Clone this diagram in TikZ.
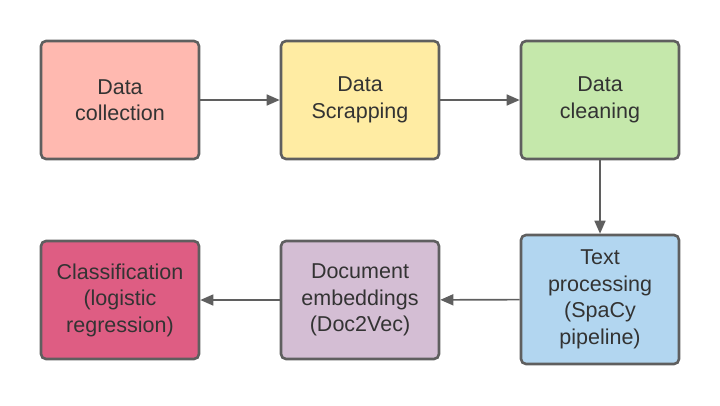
\documentclass[tikz,border=0pt]{standalone}
\usepackage{fontspec}
\setmainfont{Liberation Sans}
\usetikzlibrary{arrows.meta}
\definecolor{bordc}{RGB}{95,95,95}
\definecolor{txtc}{RGB}{51,51,51}
\definecolor{cpink}{RGB}{255,185,176}
\definecolor{cyellow}{RGB}{255,236,163}
\definecolor{cgreen}{RGB}{197,232,171}
\definecolor{cblue}{RGB}{178,214,240}
\definecolor{cpurple}{RGB}{212,190,212}
\definecolor{ccrimson}{RGB}{222,93,131}
\tikzset{
  stepbox/.style={draw=bordc, line width=2.6pt, rounded corners=5pt, minimum width=158pt, minimum height=118pt, align=center, text=txtc, font=\fontsize{21.5}{26.5}\selectfont, inner sep=0pt},
  conn/.style={draw=bordc, line width=1.6pt, -{Triangle[length=13pt,width=11pt]}}
}
\begin{document}
\begin{tikzpicture}[x=1pt,y=1pt]
\useasboundingbox (0,0) rectangle (720,-405);
\node[stepbox, fill=cpink] (a) at (120,-100) {Data\\collection};
\node[stepbox, fill=cyellow] (b) at (360,-100) {Data\\Scrapping};
\node[stepbox, fill=cgreen] (c) at (600,-100) {Data\\cleaning};
\node[stepbox, fill=cblue, minimum height=129pt] (d) at (600,-299.5) {Text\\processing\\(SpaCy\\pipeline)};
\node[stepbox, fill=cpurple] (e) at (360,-300) {Document\\embeddings\\(Doc2Vec)};
\node[stepbox, fill=ccrimson] (f) at (120,-300) {Classification\\(logistic\\regression)};
\draw[conn] (a) -- (b);
\draw[conn] (b) -- (c);
\draw[conn] (c) -- (d);
\draw[conn] (d) -- (e);
\draw[conn] (e) -- (f);
\end{tikzpicture}
\end{document}
